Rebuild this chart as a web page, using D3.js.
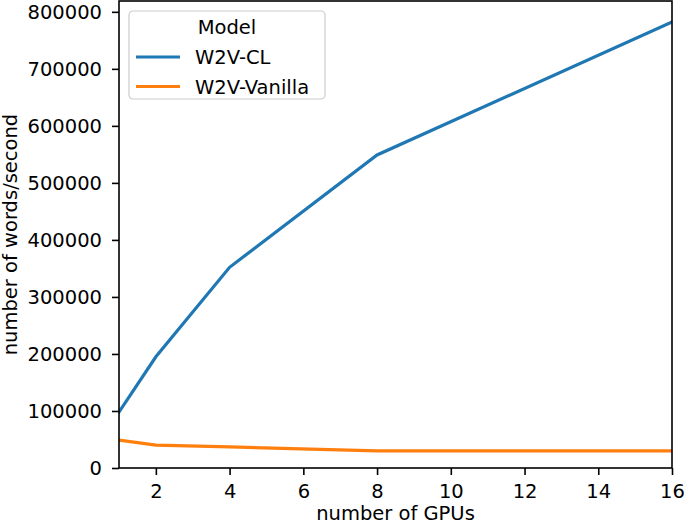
<!DOCTYPE html>
<html>
<head>
<meta charset="utf-8">
<script src="https://cdn.jsdelivr.net/npm/d3@7"></script>
<style>
  body { margin: 0; background: #fff; }
  text { font-family: "DejaVu Sans", sans-serif; }
</style>
</head>
<body>
<div class="chart"></div>
<script>
var gpus = [1, 2, 4, 8, 16];
var clValues = [98000, 195000, 352000, 549000, 782000];
var vanillaValues = [49000, 40000, 37000, 30000, 30000];
var xTicks = [2, 4, 6, 8, 10, 12, 14, 16];
var yTicks = [0, 100000, 200000, 300000, 400000, 500000, 600000, 700000, 800000];
var seriesNames = ["W2V-CL", "W2V-Vanilla"];
var colors = ["#1f77b4", "#ff7f0e"];

var width = 685, height = 526;
var margin = {left: 119, right: 13, top: 1, bottom: 58};
var fontSize = "19.5px";

var svg = d3.select(".chart").append("svg")
    .attr("width", width)
    .attr("height", height);

var x = d3.scaleLinear().domain([1, 16]).range([margin.left, width - margin.right]);
var y = d3.scaleLinear().domain([0, 819000]).range([height - margin.bottom, margin.top]);

var series = [clValues, vanillaValues];

var line = d3.line()
    .x(function(d, i) { return x(gpus[i]); })
    .y(function(d) { return y(d); });

svg.append("defs").append("clipPath").attr("id", "clip")
  .append("rect")
    .attr("x", margin.left).attr("y", margin.top)
    .attr("width", width - margin.left - margin.right)
    .attr("height", height - margin.top - margin.bottom);

svg.append("g").attr("clip-path", "url(#clip)")
  .selectAll("path")
    .data(series).enter()
    .append("path")
    .attr("d", line)
    .attr("fill", "none")
    .attr("stroke", function(d, i) { return colors[i]; })
    .attr("stroke-width", 3.2)
    .attr("stroke-linecap", "square");

var xAxis = svg.append("g")
    .attr("transform", "translate(0," + (height - margin.bottom) + ")")
    .call(d3.axisBottom(x).tickValues(xTicks).tickSize(7).tickPadding(9));
var yAxis = svg.append("g")
    .attr("transform", "translate(" + margin.left + ",0)")
    .call(d3.axisLeft(y).tickValues(yTicks).tickSize(7).tickPadding(10).tickFormat(d3.format("d")));

[xAxis, yAxis].forEach(function(a) {
  a.selectAll("text").style("font-size", fontSize).attr("fill", "#000");
  a.selectAll("line").attr("stroke", "#000").attr("stroke-width", 1.6);
  a.select(".domain").remove();
});

// frame
svg.append("rect")
    .attr("x", margin.left).attr("y", margin.top)
    .attr("width", width - margin.left - margin.right)
    .attr("height", height - margin.top - margin.bottom)
    .attr("fill", "none")
    .attr("stroke", "#000")
    .attr("stroke-width", 1.6);

svg.append("text")
    .attr("x", (margin.left + width - margin.right) / 2)
    .attr("y", height - 6)
    .attr("text-anchor", "middle")
    .style("font-size", fontSize)
    .text("number of GPUs");

svg.append("text")
    .attr("transform", "translate(17," + ((margin.top + height - margin.bottom) / 2) + ") rotate(-90)")
    .attr("text-anchor", "middle")
    .style("font-size", fontSize)
    .text("number of words/second");

// legend
var legend = svg.append("g").attr("transform", "translate(129,11)");
legend.append("rect")
    .attr("width", 196).attr("height", 88)
    .attr("rx", 4)
    .attr("fill", "#fff").attr("fill-opacity", 0.8)
    .attr("stroke", "#ccc").attr("stroke-width", 1.2);
legend.append("text")
    .attr("x", 98).attr("y", 23)
    .attr("text-anchor", "middle")
    .style("font-size", fontSize)
    .text("Model");
var items = legend.selectAll(".item")
    .data(seriesNames).enter()
    .append("g")
    .attr("transform", function(d, i) { return "translate(0," + (46 + i * 29.5) + ")"; });
items.append("line")
    .attr("x1", 7).attr("x2", 51)
    .attr("stroke", function(d, i) { return colors[i]; })
    .attr("stroke-width", 3.2);
items.append("text")
    .attr("x", 66).attr("y", 7)
    .style("font-size", fontSize)
    .text(function(d) { return d; });
</script>
</body>
</html>
